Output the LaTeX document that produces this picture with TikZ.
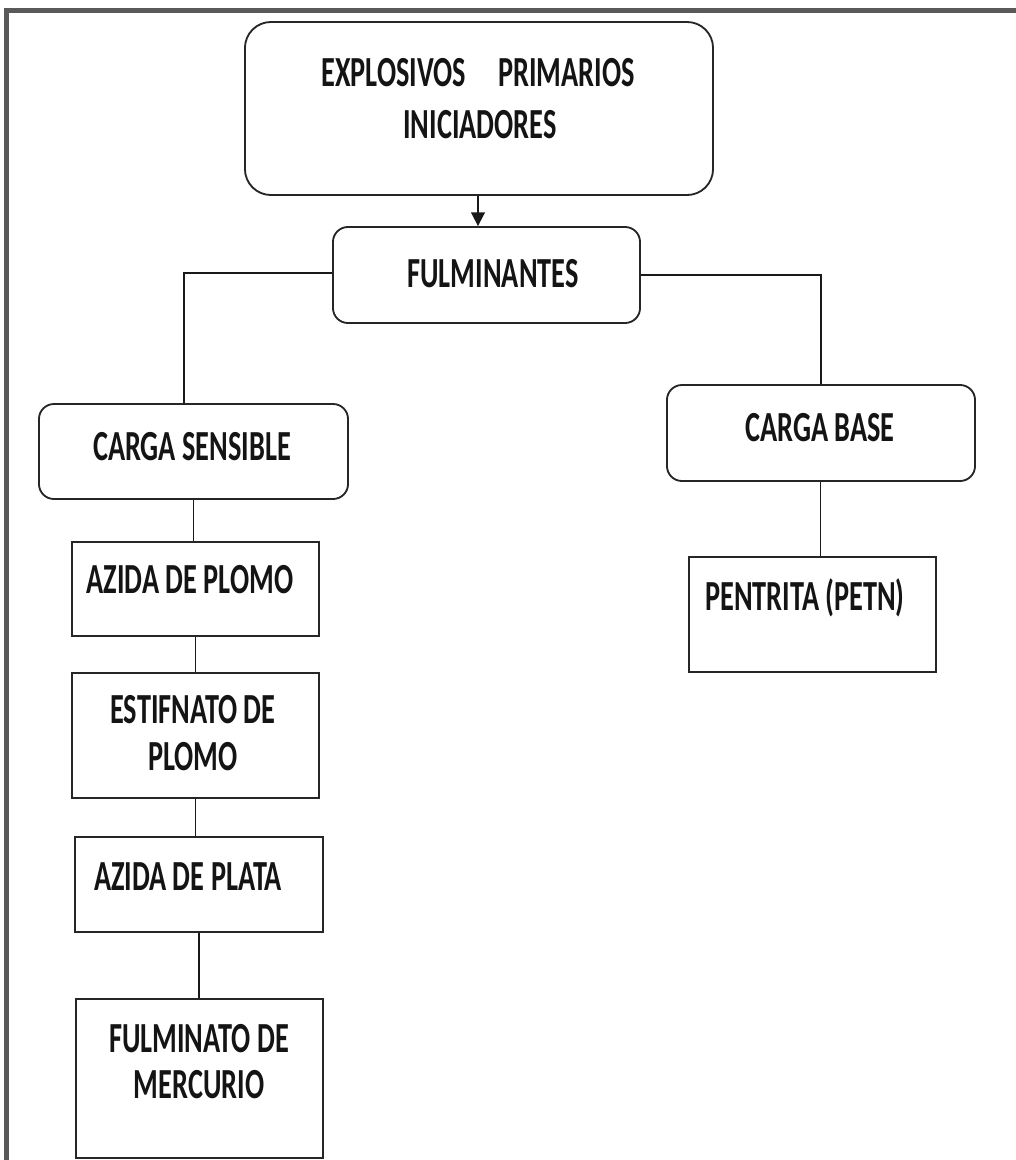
\documentclass[tikz,border=0pt]{standalone}
\usepackage{fontspec}
\setmainfont{Carlito}[FakeStretch=0.66]
\usetikzlibrary{arrows.meta}
\begin{document}
\begin{tikzpicture}[x=0.025cm,y=-0.025cm,
  rbox/.style={draw=black!85, line width=1.3pt, rounded corners=#1, inner sep=0},
  rbox/.default=0.375cm,
  sbox/.style={draw=black!85, line width=1.3pt, inner sep=0},
  lbl/.style={font=\fontsize{30.5}{36}\selectfont\bfseries, text=black!92, inner sep=0, anchor=base},
  conn/.style={draw=black!90, line width=1.25pt}]
\useasboundingbox (0,0) rectangle (1016,1160);
\fill[white] (0,0) rectangle (1016,1160);
% frame (top and left)
\coordinate (fbl) at (6.5,1160);
\coordinate (ftl) at (6.5,10.5);
\coordinate (ftr) at (1016,10.5);
\draw[line width=0.125cm, draw=black!65] (fbl) -- (ftl) -- (ftr);

% boxes
\node[rbox=0.65cm, minimum width=11.7cm, minimum height=4.325cm] (top) at (479,108.5) {};
\node[rbox, minimum width=7.675cm, minimum height=2.4cm] (fulm) at (486.5,275) {};
\node[rbox, minimum width=7.725cm, minimum height=2.375cm] (sens) at (193.5,451.5) {};
\node[rbox, minimum width=7.7cm, minimum height=2.4cm] (base) at (821,433) {};
\node[sbox, minimum width=6.175cm, minimum height=2.35cm] (az) at (195.5,589) {};
\node[sbox, minimum width=6.175cm, minimum height=3.125cm] (es) at (195.5,735.5) {};
\node[sbox, minimum width=6.2cm, minimum height=2.375cm] (ap) at (199,884.5) {};
\node[sbox, minimum width=6.175cm, minimum height=3.975cm] (fm) at (199.5,1078.5) {};
\node[sbox, minimum width=6.175cm, minimum height=2.875cm] (pe) at (812.5,614.5) {};

% labels
\node[lbl] (t1a) at (478,86.5) {EXPLOSIVOS\hspace{0.8cm}PRIMARIOS};
\node[lbl] (t1b) at (480,138) {INICIADORES};
\node[lbl] (t2) at (493,287) {FULMINANTES};
\node[lbl] (t3) at (192,460.5) {CARGA SENSIBLE};
\node[lbl] (t4) at (820,441.5) {CARGA BASE};
\node[lbl] (t5) at (190,593) {AZIDA DE PLOMO};
\node[lbl] (t6a) at (193,723) {ESTIFNATO DE};
\node[lbl] (t6b) at (193,770) {PLOMO};
\node[lbl] (t7) at (188,890) {AZIDA DE PLATA};
\node[lbl] (t8a) at (199,1052) {FULMINATO DE};
\node[lbl] (t8b) at (199,1098) {MERCURIO};
\node[lbl] (t9) at (805,610) {PENTRITA (PETN)};

% connectors
\draw[conn, -{Triangle[length=0.34cm,width=0.34cm]}] ([xshift=-0.025cm]top.south) -- ([xshift=-0.025cm]top.south |- fulm.north);
\draw[conn] ([yshift=0.05cm]fulm.west) -| ([xshift=-0.24cm]sens.north);
\draw[conn] (fulm.east) -| (base.north);
\draw[conn] (sens.south) -- (sens.south |- az.north);
\draw[conn] (az.south) -- (az.south |- es.north);
\draw[conn] (es.south) -- (es.south |- ap.north);
\draw[conn] (ap.south) -- (ap.south |- fm.north);
\draw[conn] ([xshift=0.2cm]pe.north |- base.south) -- ([xshift=0.2cm]pe.north);
\end{tikzpicture}
\end{document}
